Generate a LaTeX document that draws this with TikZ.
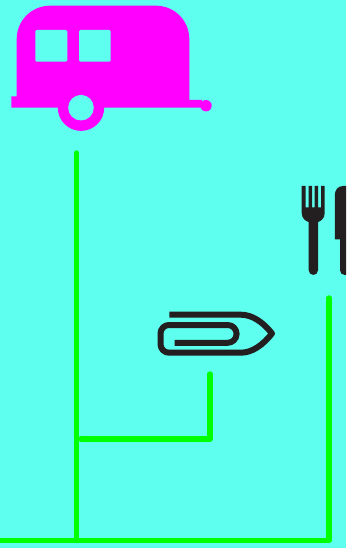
\documentclass[tikz,border=0pt]{standalone}
\usepackage{xcolor}
\definecolor{bgColor}{RGB}{94,255,238}
\definecolor{camperColor}{RGB}{255,0,255}
\definecolor{linkColor}{RGB}{0,255,0}
\definecolor{iconColor}{RGB}{35,31,32}

\begin{document}
\begin{tikzpicture}[
        x=0.75pt, y=-0.75pt,
        link/.style={line width=4.1pt, linkColor, line cap=round, line join=round},
        camper/.style={fill=camperColor, draw=none},
        hole/.style={fill=bgColor, draw=none},
        icon/.style={fill=iconColor, draw=none},
        clip line/.style={line width=4.5pt, iconColor, line join=round}
      ]
      \fill[bgColor] (0,0) rectangle (346,548);
      \useasboundingbox (0,0) rectangle (346,548);

      % connector ends
      \coordinate (camperEnd) at (76.5,153);
      \coordinate (baseLeft) at (0,540.5);
      \coordinate (baseStub) at (107,540.5);
      \coordinate (baseMain) at (76.5,540.5);
      \coordinate (baseRight) at (329,540.5);
      \coordinate (forkEnd) at (329,298);
      \coordinate (clipEnd) at (210,374);
      \coordinate (clipCorner) at (210,439);
      \coordinate (branchEnd) at (81,439);

      % camper
      \fill[camper] (11.3,96.3) -- (16.7,96.3) -- (16.7,39) arc[start angle=180, end angle=270, radius=33.3]
        -- (156,5.7) arc[start angle=270, end angle=360, radius=33.3]
        -- (189.3,100) -- (202,100) -- (202,107.7) -- (11.3,107.7) -- cycle;
      \fill[camper] (206,105.7) circle[radius=5.7];
      \fill[camper] (81,107.7) circle[radius=23.2];
      \fill[hole] (81,107.7) circle[radius=12.8];
      \fill[hole, rounded corners=1pt] (35.3,30) rectangle (67.3,61.7);
      \fill[hole, rounded corners=1pt] (79,30) rectangle (110.7,61.7);

      % fork and knife
      \fill[icon] (301.7,186) -- (305.5,186) -- (305.5,207.5) -- (308.5,207.5) -- (308.5,186)
        -- (312,186) -- (312,207.5) -- (314.5,207.5) -- (314.5,186) -- (318,186) -- (318,207.5)
        -- (321,207.5) -- (321,186) -- (324.7,186) -- (324.7,213)
        .. controls (324.7,219) and (320,221.5) .. (318,222)
        -- (318,270.3) arc[start angle=0, end angle=180, radius=4.65]
        -- (308.7,222) .. controls (306.5,221.5) and (301.7,219) .. (301.7,213) -- cycle;
      \fill[icon] (346,186) -- (343,186) .. controls (338,186) and (334.8,190) .. (334.8,195)
        -- (334.8,239.5) -- (340,239.5) -- (340,270.3) arc[start angle=180, end angle=90, radius=4.7]
        -- (346,275) -- cycle;

      % paper clip
      \draw[clip line] (169.3,314.7) -- (241,314.7) .. controls (252,314.7) and (263,322) .. (272,333.5)
        .. controls (263,345) and (252,352.7) .. (241,352.7) -- (169,352.7)
        arc[start angle=90, end angle=180, radius=8.5] -- (160.5,333.5)
        arc[start angle=180, end angle=270, radius=8.5] -- (227.7,325)
        arc[start angle=-90, end angle=90, radius=8.9] -- (174.7,342.8);

      \draw[link] (camperEnd) -- (baseMain);
      \draw[link] (baseLeft) -- (baseStub);
      \draw[link] (baseMain) -- (baseRight) -- (forkEnd);
      \draw[link] (clipEnd) -- (clipCorner) -- (branchEnd);
    \end{tikzpicture}
\end{document}
